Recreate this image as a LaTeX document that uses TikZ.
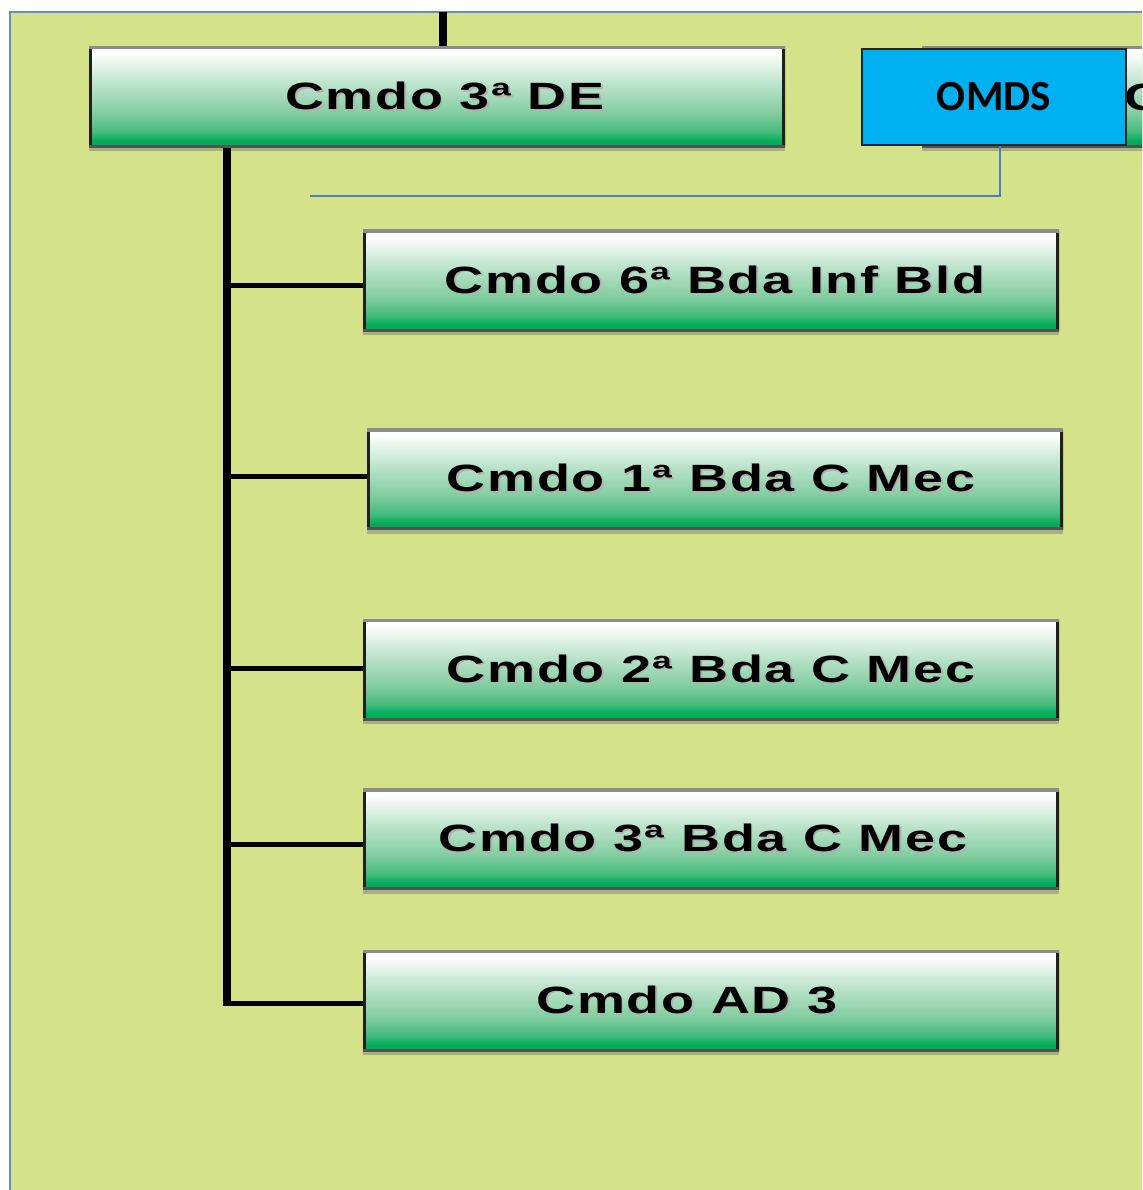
\documentclass[tikz,border=0pt]{standalone}
\usepackage{fontspec}
\usepackage{graphicx}
\newfontfamily\boxfont[LetterSpace=3]{Liberation Sans}
\newfontfamily\labelfont{Carlito}

\definecolor{panel}{RGB}{212,227,138}
\definecolor{frameblue}{RGB}{100,140,210}
\definecolor{linkblue}{RGB}{80,125,200}
\definecolor{gdark}{RGB}{0,172,88}
\definecolor{gtwo}{RGB}{70,188,125}
\definecolor{gthree}{RGB}{130,205,160}
\definecolor{gfour}{RGB}{190,228,205}
\definecolor{topgrey}{RGB}{140,140,140}
\definecolor{edgedark}{RGB}{32,32,32}
\definecolor{basegrey}{RGB}{80,85,80}
\definecolor{shadowc}{RGB}{168,176,128}
\definecolor{omdsblue}{RGB}{0,176,240}

\pgfdeclareverticalshading{boxshade}{100bp}{color(0bp)=(gdark); color(25bp)=(gdark); color(28bp)=(gdark); color(33bp)=(gtwo); color(42bp)=(gthree); color(57bp)=(gfour); color(72bp)=(white); color(100bp)=(white)}

% widened label with a faint drop shadow; optional argument shifts it sideways
\newcommand\boxlabel[2][0pt]{\makebox[0pt]{\hspace*{#1}\hspace*{#1}\scalebox{1.42}[1]{\makebox[0pt][l]{\hspace{1.2pt}\raisebox{-1.2pt}{\color{black!30}#2}}#2}}}

\tikzset{
  orgbox/.style={
    minimum width=696pt, minimum height=101pt, inner sep=0pt,
    shading=boxshade,
    font=\boxfont\bfseries\fontsize{38}{40}\selectfont,
    preaction={fill=shadowc, transform canvas={shift={(0pt,-4pt)}}},
    path picture={
      \draw[line width=6pt, edgedark]
        (path picture bounding box.south west) -- (path picture bounding box.north west)
        (path picture bounding box.south east) -- (path picture bounding box.north east);
      \draw[line width=5pt, basegrey]
        (path picture bounding box.south west) -- (path picture bounding box.south east);
      \draw[line width=6pt, topgrey]
        (path picture bounding box.north west) -- (path picture bounding box.north east);
    }},
  omdsbox/.style={
    minimum width=264pt, minimum height=96pt, inner sep=0pt,
    fill=omdsblue, draw=black!85, line width=1.3pt,
    font=\labelfont\bfseries\fontsize{43}{45}\selectfont},
  trunk/.style={line width=8pt, black},
  branch/.style={line width=5pt, black},
  link/.style={line width=1.6pt, linkblue},
}

\begin{document}
\begin{tikzpicture}[x=1pt, y=-1pt]
  \useasboundingbox (0,0) rectangle (1142,1190);
  \clip (0,0) rectangle (1142,1190);

  % panel
  \fill[white] (0,0) rectangle (1142,1190);
  \draw[frameblue, line width=2pt, fill=panel] (10,12) rectangle (1160,1210);

  % boxes
  \node[orgbox] (de) at (437,97) {\boxlabel[8pt]{Cmdo 3ª DE}};
  \node[orgbox] (bda6) at (711,280.5) {\boxlabel[4pt]{Cmdo 6ª Bda Inf Bld}};
  \node[orgbox] (bda1) at (715,479) {\boxlabel[-4pt]{Cmdo 1ª Bda C Mec}};
  \node[orgbox] (bda2) at (711,669.5) {\boxlabel{Cmdo 2ª Bda C Mec}};
  \node[orgbox] (bda3) at (711,839) {\boxlabel[-8pt]{Cmdo 3ª Bda C Mec}};
  \node[orgbox] (ad3) at (711,1000.5) {\boxlabel[-24pt]{Cmdo AD 3}};

  % box partly hidden at the right edge
  \node[orgbox] (side) at (1270,97) {};
  \node[anchor=west, inner sep=0pt, font=\boxfont\bfseries\fontsize{38}{40}\selectfont]
    (sidetext) at (1124,97) {\scalebox{1.42}[1]{C}};

  % OMDS
  \node[omdsbox] (omds) at (994,97) {OMDS};

  % connectors
  \coordinate (topend) at (443,12);
  \coordinate (tx) at (227,0);
  \coordinate (cornerx) at (223,0);
  \coordinate (trunkend) at (227,1006);
  \coordinate (omdsend) at (310,196);

  \draw[trunk] (topend) -- ([xshift=6pt]de.north);
  \draw[trunk] (de.south -| tx) -- (trunkend);
  \draw[branch] ([yshift=-4.5pt]bda6.west -| tx) -- ([yshift=-4.5pt]bda6.west);
  \draw[branch] ([yshift=3pt]bda1.west -| tx) -- ([yshift=3pt]bda1.west);
  \draw[branch] ([yshift=1.5pt]bda2.west -| tx) -- ([yshift=1.5pt]bda2.west);
  \draw[branch] ([yshift=-5pt]bda3.west -| tx) -- ([yshift=-5pt]bda3.west);
  \draw[branch] ([yshift=-3pt]ad3.west -| cornerx) -- ([yshift=-3pt]ad3.west);

  \draw[link] ([xshift=6pt]omds.south) |- (omdsend);
\end{tikzpicture}
\end{document}
